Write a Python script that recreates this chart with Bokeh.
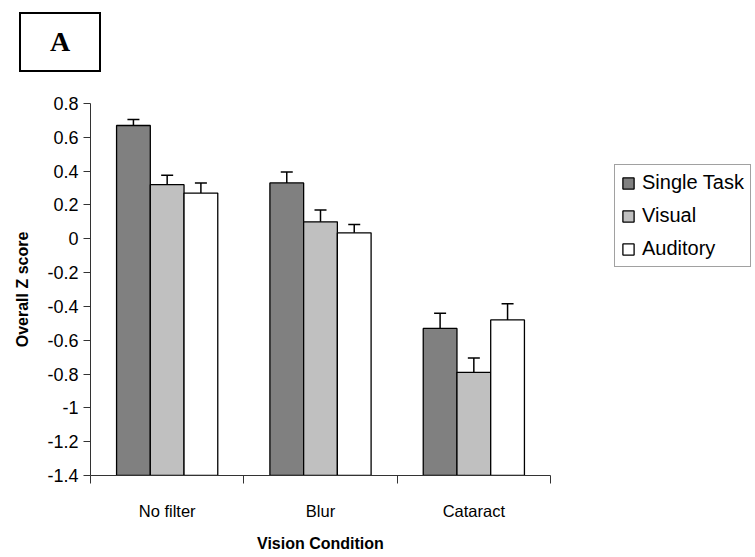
from bokeh.plotting import figure
from bokeh.models import (ColumnDataSource, FixedTicker, CustomJSTickFormatter,
                          Whisker, TeeHead, Legend, LegendItem, Div, Title)
from bokeh.layouts import column
from bokeh.embed import file_html
from bokeh.resources import INLINE

# ---- data ----
categories = ["No filter", "Blur", "Cataract"]
series = ["Single Task", "Visual", "Auditory"]
single_task = [0.67, 0.33, -0.53]
single_err = [0.035, 0.065, 0.09]
visual = [0.32, 0.10, -0.79]
visual_err = [0.055, 0.07, 0.085]
auditory = [0.27, 0.035, -0.48]
auditory_err = [0.06, 0.05, 0.095]
y_ticks = [-1.4, -1.2, -1.0, -0.8, -0.6, -0.4, -0.2, 0.0, 0.2, 0.4, 0.6, 0.8]
panel_label = "A"
x_title = "Vision Condition"
y_title = "Overall Z score"

colors = ["#808080", "#c0c0c0", "#ffffff"]
values = [single_task, visual, auditory]
errors = [single_err, visual_err, auditory_err]
offsets = [-0.22, 0.0, 0.22]
bar_w = 0.22
FONT = "Liberation Sans"
AXIS_COL = "#333333"

W, H = 755, 480
LEFT, AXIS_RIGHT = 90, 550          # pixel extent of the category axis
n = len(categories)
x_end = n * (W - LEFT) / (AXIS_RIGHT - LEFT)   # frame extends under the legend

p = figure(width=W, height=H, output_backend="svg", toolbar_location=None,
           x_range=(0, x_end), y_range=(y_ticks[0], y_ticks[-1]),
           min_border_left=LEFT, min_border_right=0,
           min_border_top=27, min_border_bottom=81)
p.outline_line_color = None
p.xgrid.visible = False
p.ygrid.visible = False

items = []
for name, vals, errs, col, off in zip(series, values, errors, colors, offsets):
    xs = [i + 0.5 + off for i in range(n)]
    src = ColumnDataSource(dict(x=xs, top=vals,
                                upper=[v + e for v, e in zip(vals, errs)]))
    r = p.vbar(x="x", top="top", bottom=y_ticks[0], width=bar_w, source=src,
               fill_color=col, line_color="black", line_width=1.3)
    items.append(LegendItem(label=name, renderers=[r]))
    w = Whisker(base="x", upper="upper", lower="top", source=src,
                dimension="height", line_color="black", line_width=1.5,
                upper_head=TeeHead(size=12, line_color="black", line_width=1.5),
                lower_head=None, level="overlay")
    p.add_layout(w)

# x axis
xa = p.xaxis[0]
xa.bounds = (0, n)
xa.ticker = FixedTicker(ticks=[i + 0.5 for i in range(n)],
                        minor_ticks=list(range(n + 1)))
xa.formatter = CustomJSTickFormatter(args=dict(labels=categories),
                                     code="return labels[Math.floor(tick)];")
xa.major_tick_out = 0
xa.major_tick_in = 0
xa.minor_tick_out = 8
xa.minor_tick_in = 0
xa.major_label_standoff = 18
xa.major_label_text_font = FONT
xa.major_label_text_font_size = "16.5px"
xa.major_label_text_color = "black"
xa.axis_line_color = AXIS_COL
xa.minor_tick_line_color = AXIS_COL

# spacer between tick labels and the x axis title
spacer = Title(text=" ", text_font_size="9px", standoff=0)
p.add_layout(spacer, "below")

# x axis title, centred under the category axis (not the wider frame)
title_w = 127  # approx. rendered width of the bold 16px title
xt = Title(text=x_title, align="left", vertical_align="top",
           offset=(AXIS_RIGHT - LEFT) / 2 - title_w / 2,
           text_font=FONT, text_font_style="bold", text_font_size="16px",
           text_color="black", standoff=0)
p.add_layout(xt, "below")

# y axis
ya = p.yaxis[0]
ya.ticker = FixedTicker(ticks=y_ticks, minor_ticks=[])
ya.formatter = CustomJSTickFormatter(code="return String(Math.round(tick*10)/10);")
ya.major_tick_out = 7
ya.major_tick_in = 0
ya.minor_tick_out = 0
ya.major_label_standoff = 5
ya.major_label_text_font = FONT
ya.major_label_text_font_size = "18px"
ya.major_label_text_color = "black"
ya.axis_label = y_title
ya.axis_label_text_font = FONT
ya.axis_label_text_font_style = "bold"
ya.axis_label_text_font_size = "16px"
ya.axis_label_text_color = "black"
ya.axis_label_standoff = 13
ya.axis_line_color = AXIS_COL
ya.major_tick_line_color = AXIS_COL

# legend (inside the extended frame, right of the axis)
lg = Legend(items=items, location=(524, 208), orientation="vertical")
lg.border_line_color = "#444444"
lg.border_line_width = 1
lg.label_text_font = FONT
lg.label_text_font_size = "20px"
lg.label_text_color = "black"
lg.glyph_width = 14
lg.glyph_height = 14
lg.label_standoff = 7
lg.spacing = 10
lg.padding = 6
lg.margin = 0
p.add_layout(lg, "center")

# panel label box
box_html = ('<div style="box-sizing:border-box;width:82px;height:60px;'
            'border:2px solid black;display:flex;align-items:center;'
            'justify-content:center;font-family:\'Liberation Serif\';'
            'font-weight:bold;font-size:28px;color:black;">%s</div>' % panel_label)
div = Div(text=box_html, width=82, height=60, margin=(12, 0, 4, 19))

layout = column(div, p, spacing=0)
open("out.html", "w").write(file_html(layout, INLINE))
